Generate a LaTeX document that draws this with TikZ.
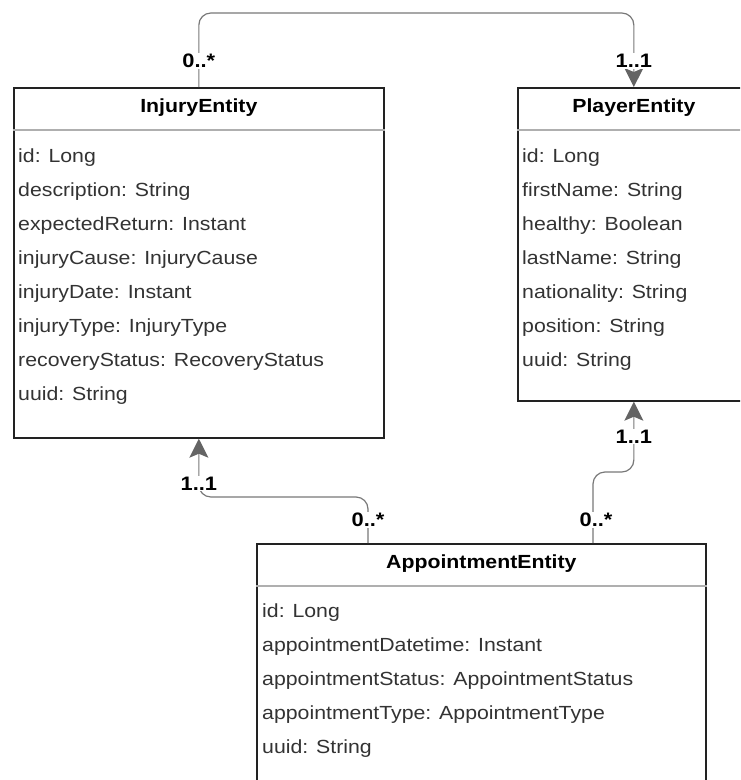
\documentclass[tikz,border=0pt]{standalone}
\usepackage{tikz}
\usepackage{fontspec}
\usetikzlibrary{arrows.meta}
\setmainfont{Liberation Sans}[FakeStretch=1.12]
\definecolor{boxline}{RGB}{34, 34, 34}
\definecolor{sepline}{RGB}{175, 175, 175}
\definecolor{linkgray}{RGB}{120, 120, 120}
\definecolor{tipgray}{RGB}{100, 100, 100}
\definecolor{attrtext}{RGB}{51, 51, 51}

\begin{document}
\begin{tikzpicture}[x=1pt, y=-1pt,
    every node/.style={font=\fontsize{19}{20}\selectfont},
    entity/.style={draw=boxline, line width=1.7pt, fill=white, anchor=north west, inner sep=0pt},
    title/.style={font=\fontsize{19}{20}\selectfont\bfseries, text=black},
    attr/.style={anchor=west, inner sep=0pt, text=attrtext},
    mult/.style={font=\fontsize{19.5}{20}\selectfont\bfseries, fill=white, inner sep=1pt, text=black},
    link/.style={draw=linkgray, line width=1.2pt, rounded corners=12pt},
    tip/.style={-{Stealth[length=19pt, width=19pt, inset=4pt, fill=tipgray, color=tipgray]}}]
\useasboundingbox (0,0) rectangle (740,780);
\clip (0,0) rectangle (740,780);

% エンティティ
\node[entity, minimum width=370pt, minimum height=350pt] (injury) at (13,87) {};
\node[entity, minimum width=232pt, minimum height=313pt] (player) at (517,87) {};
\node[entity, minimum width=449pt, minimum height=245pt] (appt) at (256,543) {};

\foreach \e/\t in {injury/InjuryEntity, player/PlayerEntity, appt/AppointmentEntity} {
    \draw[sepline, line width=1.4pt] ([yshift=-43pt]\e.north west) -- ([yshift=-43pt]\e.north east);
    \node[title] (\e T) at ([yshift=-21pt]\e.north) {\t};
}

% 属性
\foreach \a [count=\i] in {id: Long, description: String, expectedReturn: Instant,
    injuryCause: InjuryCause, injuryDate: Instant, injuryType: InjuryType,
    recoveryStatus: RecoveryStatus, uuid: String} {
    \node[attr] (injuryA\i) at ([xshift=5pt, yshift={-37pt-\i*34pt}]injury.north west) {\a};
}
\foreach \a [count=\i] in {id: Long, firstName: String, healthy: Boolean,
    lastName: String, nationality: String, position: String, uuid: String} {
    \node[attr] (playerA\i) at ([xshift=5pt, yshift={-37pt-\i*34pt}]player.north west) {\a};
}
\foreach \a [count=\i] in {id: Long, appointmentDatetime: Instant,
    appointmentStatus: AppointmentStatus, appointmentType: AppointmentType, uuid: String} {
    \node[attr] (apptA\i) at ([xshift=6pt, yshift={-36pt-\i*34pt}]appt.north west) {\a};
}

% 関連
\coordinate (apptL) at ([xshift=112pt]appt.north west);
\coordinate (apptR) at ([xshift=337pt]appt.north west);
\draw[link, tip] (injury.north) -- ++(0,-74) -| (player.north);
\draw[link, tip] (apptL) -- ++(0,-46) -| (injury.south);
\draw[link, tip] (apptR) -- ++(0,-71) -| (player.south);

% 多重度
\node[mult] (m1) at ([yshift=26pt]injury.north) {0..*};
\node[mult] (m2) at ([yshift=26pt]player.north) {1..1};
\node[mult] (m3) at ([yshift=-45pt]injury.south) {1..1};
\node[mult] (m4) at ([yshift=23pt]apptL) {0..*};
\node[mult] (m5) at ([yshift=-35pt]player.south) {1..1};
\node[mult] (m6) at ([xshift=3pt, yshift=23pt]apptR) {0..*};
\end{tikzpicture}
\end{document}
